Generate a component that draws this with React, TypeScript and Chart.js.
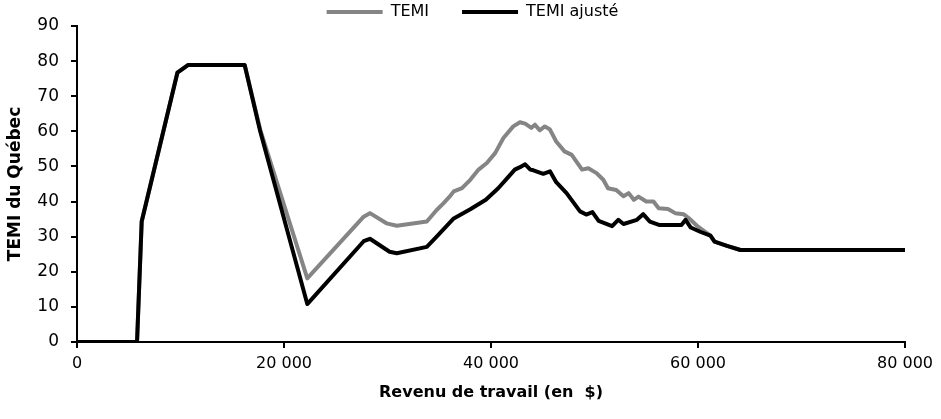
import React, { useEffect, useRef } from "react";
import { Chart, registerables } from "chart.js";

Chart.register(...registerables);

// TEMI (grey) — revenu de travail ($) and rate (%)
const temiIncome = [
  0, 5800, 6250, 9700, 10750, 16200, 17700, 22250, 27700, 28300, 29900, 30900,
  33800, 34750, 35400, 36000, 36400, 37200, 38000, 38800, 39600, 40400, 41200,
  42150, 42800, 43300, 43900, 44250, 44700, 45200, 45700, 46300, 47100, 47800,
  48800, 49400, 50200, 50850, 51300, 52100, 52800, 53300, 53800, 54250, 55000,
  55700, 56200, 57100, 57800, 58600, 59100, 59900, 60300, 61200, 61600, 62800,
  64100, 80000,
];
const temiRate = [
  0, 0, 34.3, 76.7, 78.9, 78.9, 60.5, 18.1, 35.7, 36.7, 33.8, 33.1,
  34.3, 37.6, 39.5, 41.4, 42.9, 43.8, 46.2, 49.1, 51.0, 53.8, 58.1,
  61.4, 62.6, 62.2, 61.0, 61.9, 60.3, 61.4, 60.5, 57.1, 54.3, 53.3,
  49.1, 49.5, 48.1, 46.2, 43.8, 43.3, 41.5, 42.4, 40.5, 41.4, 40.0,
  40.0, 38.1, 37.9, 36.7, 36.4, 35.3, 33.1, 32.2, 30.3, 28.6, 27.4,
  26.2, 26.2,
];

// TEMI ajusté (black)
const ajusteIncome = [
  0, 5800, 6250, 9700, 10750, 16200, 17700, 22250, 27700, 28300, 30200, 30900,
  33800, 34750, 36400, 38000, 39500, 40700, 41700, 42300, 42800, 43300, 43800,
  44100, 45050, 45700, 46300, 47300, 48600, 49200, 49800, 50400, 51700, 52300,
  52800, 54100, 54700, 55350, 56300, 58400, 58800, 59300, 60200, 61200, 61600,
  62800, 64100, 80000,
];
const ajusteRate = [
  0, 0, 34.3, 76.7, 78.9, 78.9, 60.0, 10.8, 28.7, 29.4, 25.7, 25.3,
  27.1, 30.0, 35.2, 37.8, 40.5, 43.8, 47.1, 49.1, 49.8, 50.6, 49.1,
  48.9, 47.9, 48.6, 45.5, 42.4, 37.2, 36.3, 37.0, 34.5, 33.0, 34.8,
  33.6, 34.8, 36.4, 34.3, 33.3, 33.3, 34.8, 32.6, 31.4, 30.3, 28.6,
  27.4, 26.2, 26.2,
];

const xTickValues = [0, 20000, 40000, 60000, 80000];
const yTickValues = [0, 10, 20, 30, 40, 50, 60, 70, 80, 90];

const seriesLabels = ["TEMI", "TEMI ajusté"];
const xTitle = "Revenu de travail (en  $)";
const yTitle = "TEMI du Québec";

const FONT = "'DejaVu Sans', 'Liberation Sans', Arial, sans-serif";

function fmtThousands(v: number): string {
  if (v === 0) return "0";
  const s = String(Math.round(v));
  return s.replace(/\B(?=(\d{3})+(?!\d))/g, " ");
}

const legendFit = {
  id: "legendFit",
  beforeLayout(chart: any) {
    const lg = chart.legend;
    if (!lg || lg.__patched) return;
    const orig = lg.fit;
    lg.fit = function () {
      orig.call(this);
      this.height = 55;
    };
    lg.__patched = true;
  },
  afterLayout(chart: any) {
    const lg = chart.legend;
    if (!lg) return;
    lg.left += 20;
    lg.right += 20;
  },
};

export default function App() {
  const ref = useRef<HTMLCanvasElement>(null);

  useEffect(() => {
    if (!ref.current) return;
    const chart = new Chart(ref.current, {
      type: "line",
      data: {
        datasets: [
          {
            label: seriesLabels[0],
            data: temiIncome.map((x, i) => ({ x, y: temiRate[i] })),
            borderColor: "#858585",
            backgroundColor: "#858585",
            borderWidth: 4,
            pointRadius: 0,
            borderJoinStyle: "round",
            borderCapStyle: "round",
            tension: 0,
            order: 2,
          },
          {
            label: seriesLabels[1],
            data: ajusteIncome.map((x, i) => ({ x, y: ajusteRate[i] })),
            borderColor: "#000000",
            backgroundColor: "#000000",
            borderWidth: 4,
            pointRadius: 0,
            borderJoinStyle: "round",
            borderCapStyle: "round",
            tension: 0,
            order: 1,
          },
        ],
      },
      options: {
        responsive: false,
        animation: false,
        layout: { padding: { left: 0, right: 36, top: -29, bottom: 0 } },
        plugins: {
          tooltip: { enabled: false },
          legend: {
            position: "top",
            labels: {
              boxWidth: 56,
              boxHeight: 4,
              padding: 33,
              color: "#000",
              font: { family: FONT, size: 16 },
              sort: (a: any, b: any) => a.datasetIndex - b.datasetIndex,
              generateLabels: (c: any) =>
                Chart.defaults.plugins.legend.labels
                  .generateLabels(c)
                  .map((it: any) => ({ ...it, lineWidth: 0 })),
            },
          },
        },
        scales: {
          x: {
            type: "linear",
            min: 0,
            max: 80000,
            afterBuildTicks: (s: any) => {
              s.ticks = xTickValues.map((v) => ({ value: v }));
            },
            afterFit: (s: any) => {
              s.height = 77;
            },
            ticks: {
              color: "#000",
              font: { family: FONT, size: 16 },
              padding: 6,
              maxRotation: 0,
              callback: (v: any) => fmtThousands(Number(v)),
            },
            grid: {
              drawOnChartArea: false,
              tickLength: 6,
              color: "#000",
              lineWidth: 2,
            },
            border: { color: "#000", width: 2 },
            title: {
              display: true,
              text: xTitle,
              color: "#000",
              font: { family: FONT, size: 16, weight: "bold" },
              padding: { top: 6, bottom: 17 },
            },
          },
          y: {
            type: "linear",
            min: 0,
            max: 90,
            afterBuildTicks: (s: any) => {
              s.ticks = yTickValues.map((v) => ({ value: v }));
            },
            afterFit: (s: any) => {
              s.width = 77;
            },
            ticks: {
              color: "#000",
              font: { family: FONT, size: 17 },
              padding: 12,
            },
            grid: {
              drawOnChartArea: false,
              tickLength: 6,
              color: "#000",
              lineWidth: 2,
            },
            border: { color: "#000", width: 2 },
            title: {
              display: true,
              text: yTitle,
              color: "#000",
              font: { family: FONT, size: 17, weight: "bold" },
              padding: { top: 5, bottom: 4 },
            },
          },
        },
      },
      plugins: [legendFit],
    });
    return () => chart.destroy();
  }, []);

  return (
    <div style={{ position: "absolute", left: 0, top: 0, width: 941, height: 419, background: "#fff" }}>
      <canvas ref={ref} width={941} height={419} />
    </div>
  );
}
